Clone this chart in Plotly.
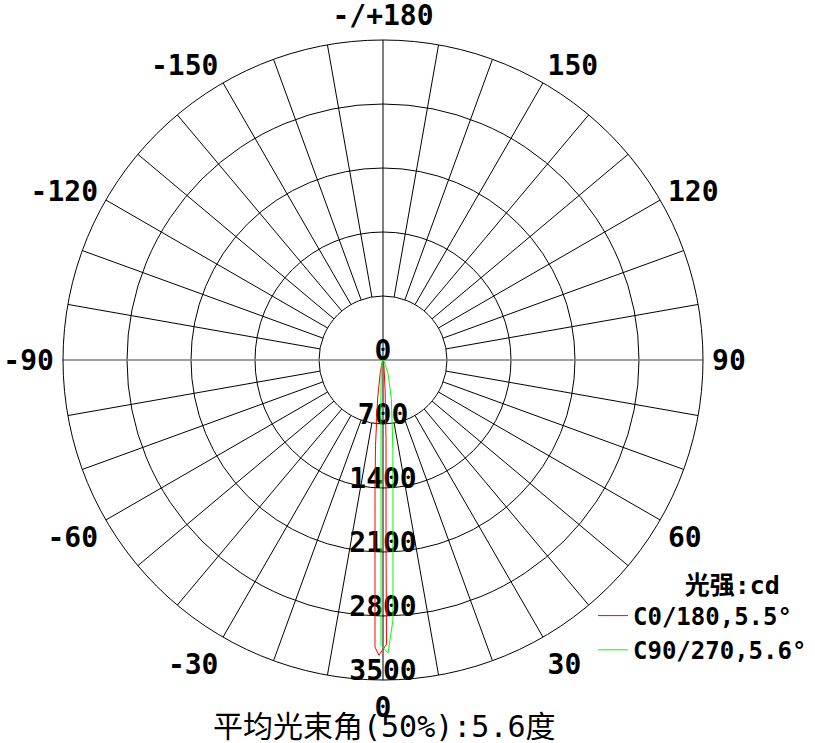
import plotly.graph_objects as go

# ---- data ----
angle_ticks = [0, 30, 60, 90, 120, 150, 180, 210, 240, 270, 300, 330]
angle_labels = ["0", "30", "60", "90", "120", "150", "-/+180", "-150", "-120", "-90", "-60", "-30"]
radial_ticks = [0, 700, 1400, 2100, 2800, 3500]
radial_labels = ["0", "700", "1400", "2100", "2800", "3500"]
spoke_angles = [a for a in range(0, 360, 10) if a % 90 != 0]

red_theta = [-90, -20, -12, -8, -5, -3.5, -2.3, -1.6, -0.8, 0.7, 1.0, 1.5, 2.2, 4, 8, 20, 90]
red_cd = [0, 30, 150, 420, 940, 1430, 2180, 3140, 3230, 3110, 1880, 1255, 855, 330, 80, 10, 0]

green_theta = [-90, -30, -10, -3, -1.43, -0.95, -0.57, -0.4, 0.98, 2.2, 2.86, 4.4, 6.3, 12, 20, 40, 90]
green_cd = [0, 10, 110, 440, 875, 1310, 2190, 3120, 3205, 2845, 2190, 1420, 985, 440, 165, 20, 0]

rmax = radial_ticks[-1]
rin = radial_ticks[1]

W, H = 815, 743
R_PX = 320.0                      # outer circle radius in pixels
LABEL_UP = 21 * rmax / R_PX       # anchor radial labels ~21px above their circle


def px(x):
    return x / W


def py(y):
    return 1 - y / H


# label anchors (text placed below the anchor, i.e. just above each circle)
lab_r = [abs(t - LABEL_UP) for t in radial_ticks]
lab_theta = [0 if t >= LABEL_UP else 180 for t in radial_ticks]

fig = go.Figure()

# spokes from inner circle to outer circle
sr, st = [], []
for a in spoke_angles:
    sr += [rin, rmax, None]
    st += [a, a, None]
fig.add_trace(go.Scatterpolar(r=sr, theta=st, mode="lines",
                              line=dict(color="black", width=1),
                              showlegend=False, hoverinfo="skip"))
# horizontal full diameter (grey)
fig.add_trace(go.Scatterpolar(r=[rmax, 0, rmax], theta=[90, 90, 270], mode="lines",
                              line=dict(color="#808080", width=1.5),
                              showlegend=False, hoverinfo="skip"))
# vertical full diameter (black)
fig.add_trace(go.Scatterpolar(r=[rmax, 0, rmax], theta=[0, 0, 180], mode="lines",
                              line=dict(color="black", width=1),
                              showlegend=False, hoverinfo="skip"))

# radial labels
fig.add_trace(go.Scatterpolar(r=lab_r, theta=lab_theta,
                              mode="text", text=radial_labels,
                              textposition="bottom center", cliponaxis=False,
                              textfont=dict(family="DejaVu Sans Mono", size=28,
                                            color="black", weight="bold"),
                              showlegend=False, hoverinfo="skip"))

fig.add_trace(go.Scatterpolar(r=red_cd, theta=red_theta, mode="lines",
                              line=dict(color="#ff0000", width=1),
                              name="C0/180,5.5°"))
fig.add_trace(go.Scatterpolar(r=green_cd, theta=green_theta, mode="lines",
                              line=dict(color="#00ff00", width=1),
                              name="C90/270,5.6°"))

fig.update_layout(
    width=W, height=H,
    margin=dict(l=0, r=0, t=0, b=0),
    paper_bgcolor="white",
    plot_bgcolor="white",
    polar=dict(
        domain=dict(x=[px(63), px(703)], y=[py(680), py(40)]),
        bgcolor="white",
        angularaxis=dict(
            rotation=-90, direction="counterclockwise",
            tickmode="array", tickvals=angle_ticks, ticktext=angle_labels,
            showgrid=False, ticks="outside", ticklen=3, tickcolor="rgba(0,0,0,0)",
            showline=True, linecolor="black", linewidth=1,
            tickfont=dict(family="DejaVu Sans Mono", size=28, color="black", weight="bold"),
        ),
        radialaxis=dict(
            range=[0, rmax], tickmode="array", tickvals=radial_ticks[1:-1],
            showgrid=True, gridcolor="black", gridwidth=1,
            showline=False, showticklabels=False, ticks="",
        ),
    ),
    legend=dict(
        x=px(812), xanchor="right", y=py(561), yanchor="top",
        bgcolor="rgba(0,0,0,0)",
        title=dict(text="光强:cd\u00a0\u00a0", side="top right",
                   font=dict(family="DejaVu Sans Mono, Noto Sans CJK SC", size=25,
                             color="black", weight="bold")),
        font=dict(family="DejaVu Sans Mono", size=24, color="black", weight="bold"),
        itemwidth=30,
        tracegroupgap=0,
    ),
    annotations=[dict(
        text="平均光束角(50%):5.6度", x=px(384), y=py(726),
        xref="paper", yref="paper", showarrow=False,
        xanchor="center", yanchor="middle",
        font=dict(family="DejaVu Sans Mono, Noto Sans CJK SC", size=30, color="black"),
    )],
)

fig.write_html("out.html", config={"displayModeBar": False},
               post_script="document.body.style.margin='0px';")
